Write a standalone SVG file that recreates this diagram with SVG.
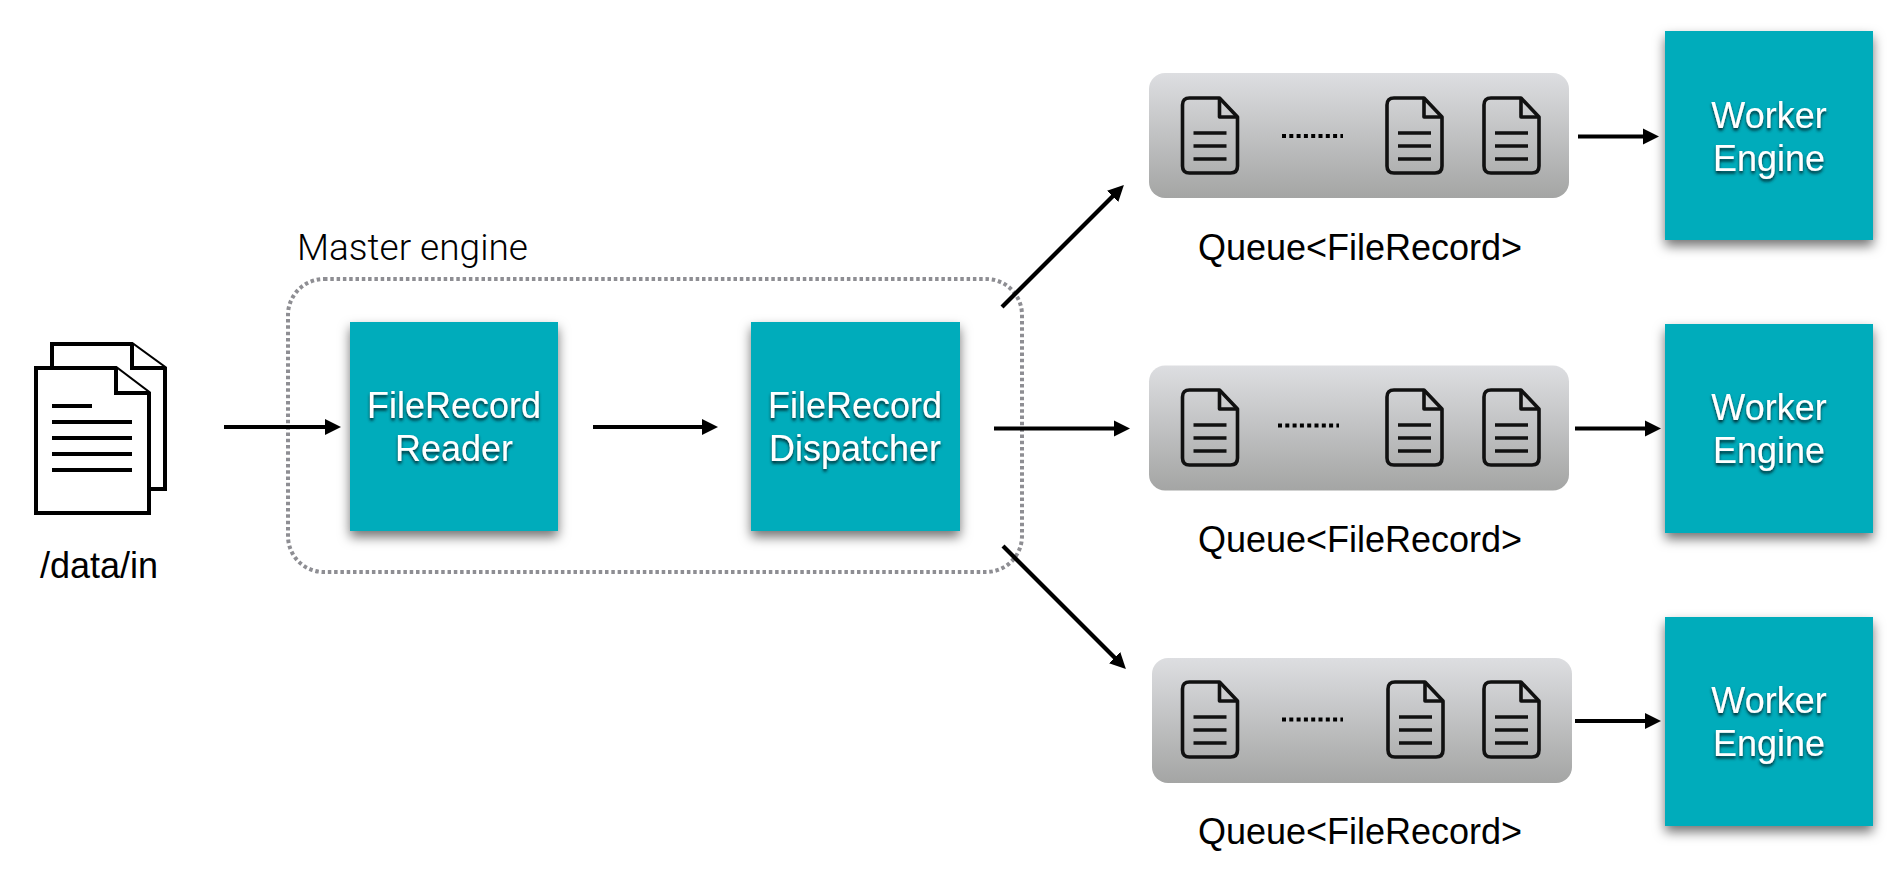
<svg xmlns="http://www.w3.org/2000/svg" width="1904" height="875" viewBox="0 0 1904 875">
<style>
text{font-family:"Liberation Sans",Arial,sans-serif}
.box{fill:#06acbb;filter:url(#bs)}
.wt{fill:#fff;font-size:36px;text-anchor:middle;filter:url(#ts)}
.lb{fill:#000;font-size:36px}
.q{fill:#000;font-size:36px;text-anchor:middle}
.queue{fill:url(#qg)}
.arr{stroke:#000;stroke-width:4.200;fill:none;marker-end:url(#ah)}
.doc{fill:none;stroke:#111;stroke-width:3.600;stroke-linejoin:round}
.dots{stroke:#000;stroke-width:4;stroke-dasharray:4 3.300;fill:none}
.big{fill:#fff;stroke:#000;stroke-width:4}
</style>
<defs>
<linearGradient id="qg" x1="0" y1="0" x2="0" y2="1"><stop offset="0" stop-color="#dddee1"/><stop offset="1" stop-color="#a4a5a4"/></linearGradient>
<filter id="bs" x="-15%" y="-15%" width="130%" height="135%"><feDropShadow dx="0" dy="6" stdDeviation="6" flood-color="#000" flood-opacity=".55"/></filter>
<filter id="ts" x="-10%" y="-20%" width="120%" height="160%"><feDropShadow dx="0" dy="2.500" stdDeviation="1.800" flood-color="#002a30" flood-opacity="1"/></filter>
<marker id="ah" markerUnits="userSpaceOnUse" markerWidth="18" markerHeight="18" refX="2" refY="9" orient="auto"><path d="M0 1L16 9L0 17Z" fill="#000"/></marker>
<g id="doc" class="doc">
<path d="M7 0H37L55 19V68Q55 75 48 75H7Q0 75 0 68V7Q0 0 7 0Z"/>
<path d="M37 0V19H55"/>
<path d="M11 35H44M11 48H44M11 61H44"/>
</g>
</defs>

<g id="source">
<path class="big" d="M52 344H132L165 368V489H52Z"/>
<path class="big" d="M132 344V368H165"/>
<path class="big" d="M36 368H116L149 393V513H36Z"/>
<path class="big" d="M116 368V393H149"/>
<path d="M52 406H92M52 422H132M52 438H132M52 454H132M52 470H132" stroke="#000" stroke-width="4" fill="none"/>
<text class="lb" x="40" y="578">/data/in</text>
</g>

<g id="master">
<rect x="288" y="279" width="734" height="293" rx="36" fill="none" stroke="#8e8e93" stroke-width="4" stroke-dasharray="3.500 2.800"/>
<text x="297" y="260" font-size="37" font-weight="300" style="font-family:Roboto,'Liberation Sans',sans-serif" fill="#000">Master engine</text>
</g>

<g id="reader">
<rect class="box" x="350" y="322" width="208" height="209"/>
<text class="wt" x="454" y="418">FileRecord</text>
<text class="wt" x="454" y="461">Reader</text>
</g>
<g id="dispatcher">
<rect class="box" x="751" y="322" width="209" height="209"/>
<text class="wt" x="855" y="418">FileRecord</text>
<text class="wt" x="855" y="461">Dispatcher</text>
</g>

<g id="queue1">
<rect class="queue" x="1149" y="73" width="420" height="125" rx="16"/>
<use href="#doc" x="1182.500" y="98"/><use href="#doc" x="1387" y="98"/><use href="#doc" x="1484" y="98"/>
<path class="dots" d="M1282 136H1343"/>
<text class="q" x="1360" y="260">Queue&lt;FileRecord&gt;</text>
</g>
<g id="queue2">
<rect class="queue" x="1149" y="365.500" width="420" height="125" rx="16"/>
<use href="#doc" x="1182.500" y="390"/><use href="#doc" x="1387" y="390"/><use href="#doc" x="1484" y="390"/>
<path class="dots" d="M1278 425.500H1339"/>
<text class="q" x="1360" y="552">Queue&lt;FileRecord&gt;</text>
</g>
<g id="queue3">
<rect class="queue" x="1152" y="658" width="420" height="125" rx="16"/>
<use href="#doc" x="1182.500" y="682"/><use href="#doc" x="1388" y="682"/><use href="#doc" x="1484" y="682"/>
<path class="dots" d="M1282 719.500H1343"/>
<text class="q" x="1360" y="844">Queue&lt;FileRecord&gt;</text>
</g>

<g id="worker1">
<rect class="box" x="1665" y="31" width="208" height="209"/>
<text class="wt" x="1769" y="128">Worker</text>
<text class="wt" x="1769" y="171">Engine</text>
</g>
<g id="worker2">
<rect class="box" x="1665" y="324" width="208" height="209"/>
<text class="wt" x="1769" y="420">Worker</text>
<text class="wt" x="1769" y="463">Engine</text>
</g>
<g id="worker3">
<rect class="box" x="1665" y="617" width="208" height="209"/>
<text class="wt" x="1769" y="713">Worker</text>
<text class="wt" x="1769" y="756">Engine</text>
</g>

<g id="connectors">
<path class="arr" d="M224 427H327"/>
<path class="arr" d="M593 427H704"/>
<path class="arr" d="M994 428.500H1116"/>
<path class="arr" d="M1002 307L1114 195"/>
<path class="arr" d="M1003 546L1116 659"/>
<path class="arr" d="M1578 136.500H1645"/>
<path class="arr" d="M1575 428.500H1647"/>
<path class="arr" d="M1575 721H1647"/>
</g>
</svg>
